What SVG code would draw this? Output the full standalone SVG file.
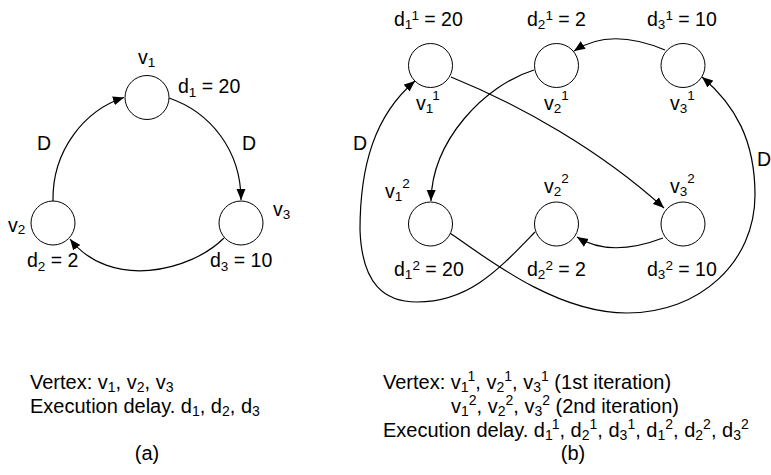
<svg xmlns="http://www.w3.org/2000/svg" width="771" height="475" viewBox="0 0 771 475">
<style>
.t{font-family:"Liberation Sans",Arial,sans-serif;font-size:19.5px;fill:#000}
.b{font-size:20px}
.s{font-size:13.5px}
.bs{font-size:14px}
.n{fill:#fff;stroke:#000;stroke-width:1}
.e{fill:none;stroke:#000;stroke-width:1.2}
</style>
<defs>
<marker id="ah" markerWidth="12" markerHeight="10" refX="11" refY="5" orient="auto" markerUnits="userSpaceOnUse"><path d="M0,0.5 L11,5 L0,9.5 z" fill="#000"/></marker>
</defs>
<rect width="771" height="475" fill="#fff"/>

<g id="connectors">
<!-- (a) -->
<path class="e" d="M53 201 C52 150 85 110 124 97.5" marker-end="url(#ah)"/>
<path class="e" d="M169 98 C210 112 241 150 241 200" marker-end="url(#ah)"/>
<path class="e" d="M224 238 C190 272 110 290 70 239" marker-end="url(#ah)"/>
<!-- (b) -->
<path class="e" d="M451 77 C520 105 600 150 664 208" marker-end="url(#ah)"/>
<path class="e" d="M665 50 Q610 27 574 51" marker-end="url(#ah)"/>
<path class="e" d="M534 70 C485 85 432 140 431 201" marker-end="url(#ah)"/>
<path class="e" d="M663 238 Q610 258 577 237" marker-end="url(#ah)"/>
<path class="e" d="M535 232 C500 268 470 302 417 302 C385 302 362 285 360 230 C360 165 375 115 415 81" marker-end="url(#ah)"/>
<path class="e" d="M450 233 C495 265 560 313 627 313 C700 313 755 262 755 195 C755 140 735 105 702 77" marker-end="url(#ah)"/>
<text class="t" x="37" y="150">D</text>
<text class="t" x="242" y="150">D</text>
<text class="t" x="353" y="150">D</text>
<text class="t" x="757" y="166">D</text>
</g>

<g id="a-v1">
<circle class="n" cx="147" cy="97.5" r="22"/>
<text class="t" x="138" y="64">v<tspan class="s" dy="3">1</tspan></text>
<text class="t" x="178" y="93">d<tspan class="s" dy="4">1</tspan><tspan dy="-4"> = 20</tspan></text>
</g>
<g id="a-v2">
<circle class="n" cx="53" cy="223" r="22"/>
<text class="t" x="8" y="232">v<tspan class="s" dy="2">2</tspan></text>
<text class="t" x="27" y="267">d<tspan class="s" dy="4">2</tspan><tspan dy="-4"> = 2</tspan></text>
</g>
<g id="a-v3">
<circle class="n" cx="241" cy="223" r="22"/>
<text class="t" x="273" y="216">v<tspan class="s" dy="3">3</tspan></text>
<text class="t" x="210" y="267">d<tspan class="s" dy="4">3</tspan><tspan dy="-4"> = 10</tspan></text>
</g>

<g id="b-v1-1">
<circle class="n" cx="430.5" cy="65.5" r="22"/>
<text class="t" x="394" y="26">d<tspan class="s" dy="3">1</tspan><tspan class="s" dy="-9">1</tspan><tspan dy="6"> = 20</tspan></text>
<text class="t" x="416" y="110">v<tspan class="s" dy="3">1</tspan><tspan class="s" dy="-13">1</tspan></text>
</g>
<g id="b-v2-1">
<circle class="n" cx="556.5" cy="65.5" r="22"/>
<text class="t" x="527" y="26">d<tspan class="s" dy="3">2</tspan><tspan class="s" dy="-9">1</tspan><tspan dy="6"> = 2</tspan></text>
<text class="t" x="544" y="110">v<tspan class="s" dy="3">2</tspan><tspan class="s" dy="-13">1</tspan></text>
</g>
<g id="b-v3-1">
<circle class="n" cx="683" cy="65.5" r="22"/>
<text class="t" x="647" y="26">d<tspan class="s" dy="3">3</tspan><tspan class="s" dy="-9">1</tspan><tspan dy="6"> = 10</tspan></text>
<text class="t" x="670" y="110">v<tspan class="s" dy="3">3</tspan><tspan class="s" dy="-13">1</tspan></text>
</g>
<g id="b-v1-2">
<circle class="n" cx="430.5" cy="224" r="22"/>
<text class="t" x="385" y="198">v<tspan class="s" dy="3">1</tspan><tspan class="s" dy="-13">2</tspan></text>
<text class="t" x="394" y="276">d<tspan class="s" dy="3">1</tspan><tspan class="s" dy="-9">2</tspan><tspan dy="6"> = 20</tspan></text>
</g>
<g id="b-v2-2">
<circle class="n" cx="556.5" cy="224" r="22"/>
<text class="t" x="544" y="193">v<tspan class="s" dy="3">2</tspan><tspan class="s" dy="-13">2</tspan></text>
<text class="t" x="527" y="276">d<tspan class="s" dy="3">2</tspan><tspan class="s" dy="-9">2</tspan><tspan dy="6"> = 2</tspan></text>
</g>
<g id="b-v3-2">
<circle class="n" cx="683" cy="224" r="22"/>
<text class="t" x="670" y="193">v<tspan class="s" dy="3">3</tspan><tspan class="s" dy="-13">2</tspan></text>
<text class="t" x="647" y="276">d<tspan class="s" dy="3">3</tspan><tspan class="s" dy="-9">2</tspan><tspan dy="6"> = 10</tspan></text>
</g>

<g id="legend-a">
<text class="t b" x="30" y="389">Vertex: v<tspan class="bs" dy="3">1</tspan><tspan dy="-3">, v</tspan><tspan class="bs" dy="3">2</tspan><tspan dy="-3">, v</tspan><tspan class="bs" dy="3">3</tspan></text>
<text class="t b" x="30" y="413">Execution delay. d<tspan class="bs" dy="3">1</tspan><tspan dy="-3">, d</tspan><tspan class="bs" dy="3">2</tspan><tspan dy="-3">, d</tspan><tspan class="bs" dy="3">3</tspan></text>
<text class="t b" x="147" y="460" text-anchor="middle">(a)</text>
</g>
<g id="legend-b">
<text class="t b" x="383" y="389">Vertex: v<tspan class="bs" dy="3">1</tspan><tspan class="bs" dy="-11">1</tspan><tspan dy="8">, v</tspan><tspan class="bs" dy="3">2</tspan><tspan class="bs" dy="-11">1</tspan><tspan dy="8">, v</tspan><tspan class="bs" dy="3">3</tspan><tspan class="bs" dy="-11">1</tspan><tspan dy="8"> (1st iteration)</tspan></text>
<text class="t b" x="451" y="413">v<tspan class="bs" dy="3">1</tspan><tspan class="bs" dy="-11">2</tspan><tspan dy="8">, v</tspan><tspan class="bs" dy="3">2</tspan><tspan class="bs" dy="-11">2</tspan><tspan dy="8">, v</tspan><tspan class="bs" dy="3">3</tspan><tspan class="bs" dy="-11">2</tspan><tspan dy="8"> (2nd iteration)</tspan></text>
<text class="t b" x="383" y="437">Execution delay. d<tspan class="bs" dy="3">1</tspan><tspan class="bs" dy="-11">1</tspan><tspan dy="8">, d</tspan><tspan class="bs" dy="3">2</tspan><tspan class="bs" dy="-11">1</tspan><tspan dy="8">, d</tspan><tspan class="bs" dy="3">3</tspan><tspan class="bs" dy="-11">1</tspan><tspan dy="8">, d</tspan><tspan class="bs" dy="3">1</tspan><tspan class="bs" dy="-11">2</tspan><tspan dy="8">, d</tspan><tspan class="bs" dy="3">2</tspan><tspan class="bs" dy="-11">2</tspan><tspan dy="8">, d</tspan><tspan class="bs" dy="3">3</tspan><tspan class="bs" dy="-11">2</tspan></text>
<text class="t b" x="573" y="460" text-anchor="middle">(b)</text>
</g>
</svg>
